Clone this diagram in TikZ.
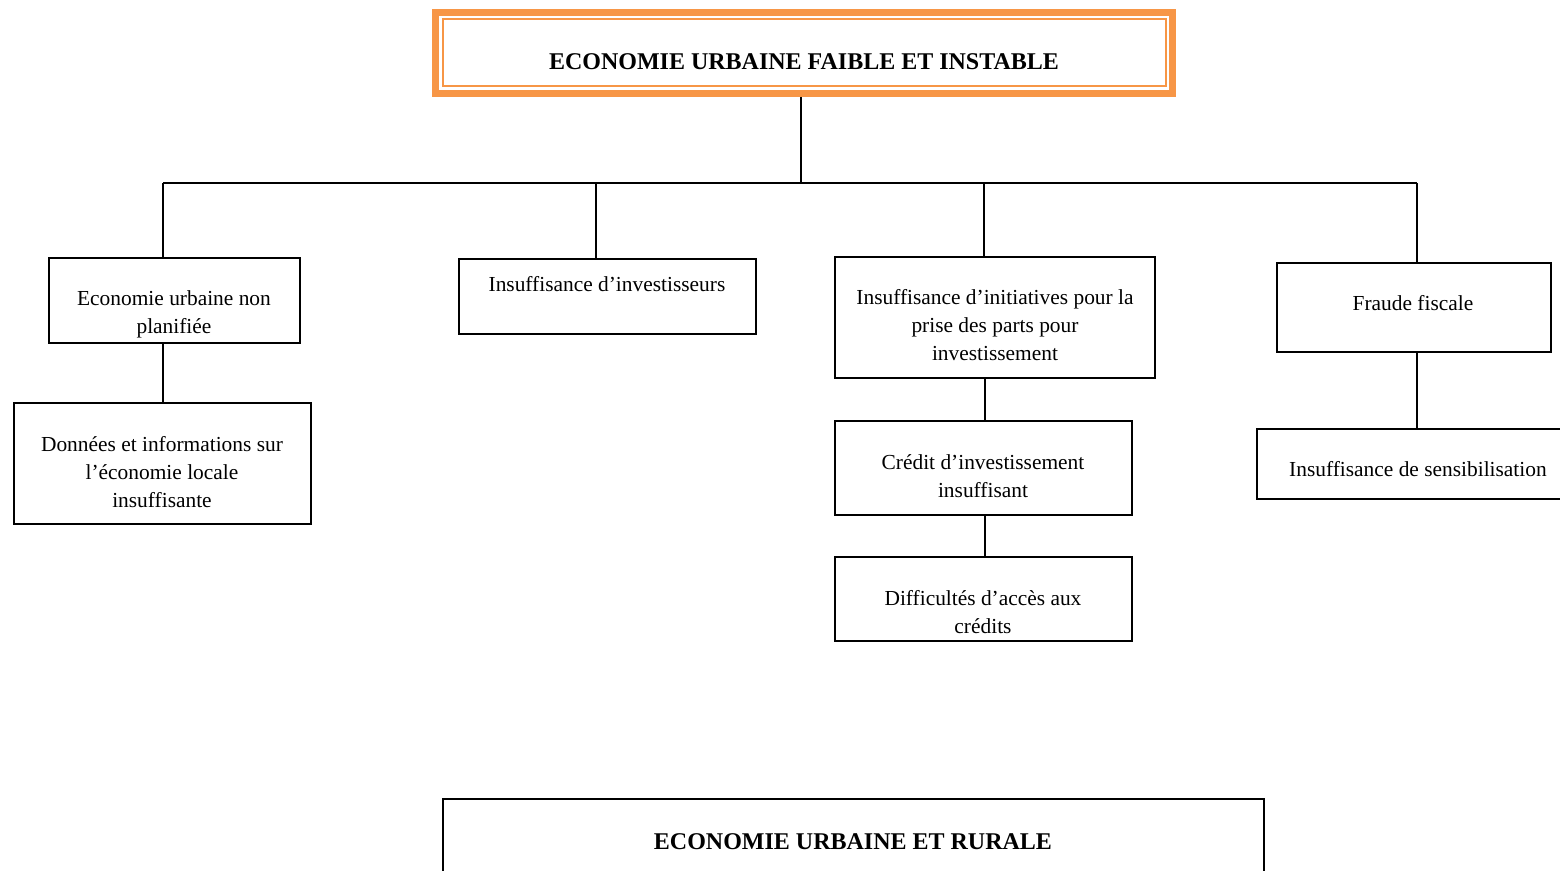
\documentclass[tikz,border=0pt]{standalone}
\usepackage{fontspec}
\setmainfont{Liberation Serif}
\definecolor{accorange}{HTML}{F79646}
\begin{document}
\begin{tikzpicture}[x=0.5pt,y=-0.5pt,
  box/.style={draw=black,line width=0.9pt,inner sep=0pt,rectangle},
  txt/.style={align=center,inner sep=0pt,font=\fontsize{10.7pt}{14pt}\selectfont},
  ttl/.style={align=center,inner sep=0pt,font=\fontsize{12pt}{14pt}\selectfont\bfseries},
  conn/.style={line width=0.9pt}]
\clip (0,0) rectangle (1560,871);
\fill[white] (0,0) rectangle (1560,871);
% top title box
\node[draw=accorange,line width=3.5pt,minimum width=368.5pt,minimum height=40.5pt,inner sep=0pt] (topout) at (804,53) {};
\node[draw=accorange,line width=0.9pt,minimum width=361.5pt,minimum height=33.5pt,inner sep=0pt] (top) at (804.5,52.5) {};
\node[ttl] (toptxt) at (804,62) {ECONOMIE URBAINE FAIBLE ET INSTABLE};
% boxes
\node[box,minimum width=125.5pt,minimum height=42.5pt] (b1) at (174.5,300.5) {};
\node[box,minimum width=148.5pt,minimum height=60.5pt] (b1b) at (162.5,463.5) {};
\node[box,minimum width=148.5pt,minimum height=37.5pt] (b2) at (607.5,296.5) {};
\node[box,minimum width=160pt,minimum height=60.5pt] (b3) at (995,317.5) {};
\node[box,minimum width=148.5pt,minimum height=47pt] (b3b) at (983.5,468) {};
\node[box,minimum width=148.5pt,minimum height=42pt] (b3c) at (983.5,599) {};
\node[box,minimum width=137pt,minimum height=44.5pt] (b4) at (1414,307.5) {};
\node[box,minimum width=156.5pt,minimum height=35pt] (b4b) at (1413.5,464) {};
\node[box,minimum width=410.5pt,minimum height=50.5pt] (bot) at (853.5,849.5) {};
% texts
\node[txt] (t1) at (174,314) {Economie urbaine non\\planifiée};
\node[txt] (t1b) at (162,472) {Données et informations sur\\l’économie locale\\insuffisante};
\node[txt] (t2) at (607,284) {Insuffisance d’investisseurs};
\node[txt] (t3) at (995,325) {Insuffisance d’initiatives pour la\\prise des parts pour\\investissement};
\node[txt] (t3b) at (983,476) {Crédit d’investissement\\insuffisant};
\node[txt] (t3c) at (983,612) {Difficultés d’accès aux\\crédits};
\node[txt] (t4) at (1413,303) {Fraude fiscale};
\node[txt] (t4b) at (1418,469) {Insuffisance de sensibilisation};
\node[ttl] (bottxt) at (853,842) {ECONOMIE URBAINE ET RURALE};
% connectors
\coordinate (hub) at (801,183);
\coordinate (c1) at (163,183);
\coordinate (c2) at (596,183);
\coordinate (c3) at (984,183);
\coordinate (c4) at (1417,183);
\draw[conn] (hub |- topout.south) -- (hub);
\draw[conn] (c1) -- (c4);
\draw[conn] (c1) -- (c1 |- b1.north);
\draw[conn] (c2) -- (c2 |- b2.north);
\draw[conn] (c3) -- (c3 |- b3.north);
\draw[conn] (c4) -- (c4 |- b4.north);
\draw[conn] (c1 |- b1.south) -- (c1 |- b1b.north);
\coordinate (c3d) at (985,400);
\draw[conn] (c3d |- b3.south) -- (c3d |- b3b.north);
\draw[conn] (c3d |- b3b.south) -- (c3d |- b3c.north);
\draw[conn] (c4 |- b4.south) -- (c4 |- b4b.north);
\end{tikzpicture}
\end{document}
